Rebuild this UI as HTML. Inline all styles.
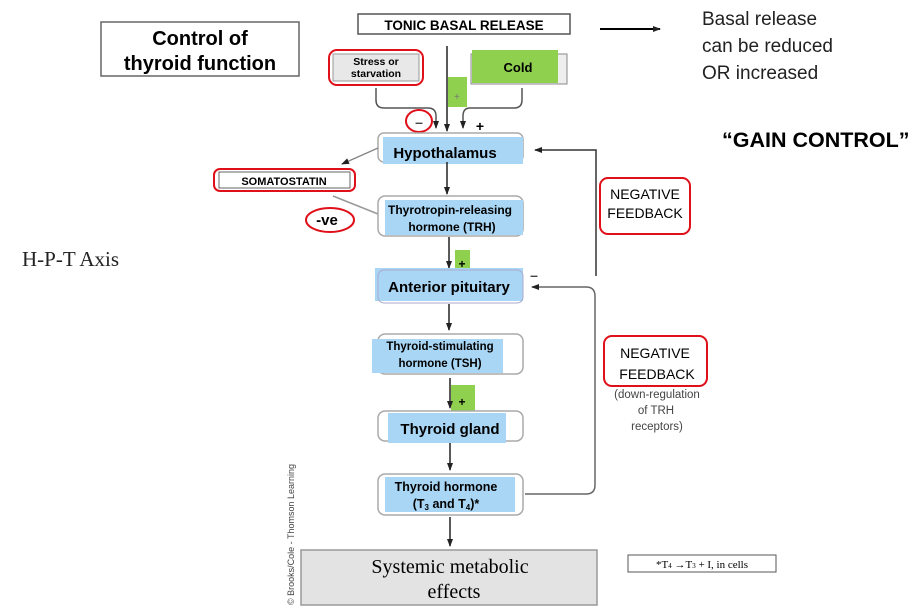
<!DOCTYPE html>
<html><head><meta charset="utf-8"><style>
html,body{margin:0;padding:0;background:#fff;width:924px;height:614px;overflow:hidden}
svg{display:block}
.s{font-family:"Liberation Sans",sans-serif}
.b{font-weight:bold}
.sr{font-family:"Liberation Serif",serif}
</style></head><body>
<svg width="924" height="614" viewBox="0 0 924 614" xmlns="http://www.w3.org/2000/svg">
<defs>
<marker id="a" markerWidth="8" markerHeight="8" refX="7" refY="4" orient="auto" markerUnits="userSpaceOnUse"><path d="M0,1 L8,4 L0,7z" fill="#222"/></marker>
</defs>
<rect x="101" y="22" width="198" height="54" fill="#fff" stroke="#666" stroke-width="1.5"/>
<text x="200" y="45" class="s b" font-size="20" text-anchor="middle">Control of</text>
<text x="200" y="70" class="s b" font-size="20" text-anchor="middle">thyroid function</text>
<text x="22" y="266" class="sr" font-size="21" fill="#222">H-P-T Axis</text>
<rect x="358" y="14" width="212" height="20" fill="#fff" stroke="#555" stroke-width="1.5"/>
<text x="464" y="30" class="s b" font-size="13.5" text-anchor="middle">TONIC BASAL RELEASE</text>
<line x1="600" y1="29" x2="660" y2="29" stroke="#000" stroke-width="2" marker-end="url(#a)"/>
<text x="702" y="25" class="s" font-size="19" fill="#222">Basal release</text>
<text x="702" y="52" class="s" font-size="19" fill="#222">can be reduced</text>
<text x="702" y="79" class="s" font-size="19" fill="#222">OR increased</text>
<text x="722" y="147" class="s b" font-size="21.5">“GAIN CONTROL”</text>
<rect x="333" y="54" width="86" height="27" fill="#e8e8e8" stroke="#999"/>
<text x="376" y="65" class="s b" font-size="10.5" text-anchor="middle">Stress or</text>
<text x="376" y="77" class="s b" font-size="10.5" text-anchor="middle">starvation</text>
<rect x="329" y="50" width="94" height="35" rx="8" fill="none" stroke="#e0101a" stroke-width="2"/>
<rect x="471" y="54" width="96" height="30" fill="#eee" stroke="#888"/>
<rect x="472" y="50" width="86" height="33" fill="#8fd14f"/>
<text x="518" y="72" class="s b" font-size="13" text-anchor="middle">Cold</text>
<rect x="448" y="77" width="19" height="30" fill="#8fd14f"/>
<text x="454" y="100" class="s" font-size="10" fill="#777">+</text>
<path d="M376,88 V100 Q376,108 384,108 H428 Q436,108 436,116 V128" fill="none" stroke="#555" stroke-width="1.5" marker-end="url(#a)"/>
<line x1="447" y1="46" x2="447" y2="131" stroke="#222" stroke-width="1.5" marker-end="url(#a)"/>
<path d="M522,88 V100 Q522,108 514,108 H470 Q463,108 463,116 V128" fill="none" stroke="#555" stroke-width="1.5" marker-end="url(#a)"/>
<text x="419" y="127" class="s b" font-size="14" fill="#444" text-anchor="middle">–</text>
<ellipse cx="419" cy="121" rx="13" ry="11" fill="none" stroke="#e0101a" stroke-width="2"/>
<text x="480" y="131" class="s b" font-size="14" text-anchor="middle">+</text>
<rect x="378" y="133" width="145" height="29" rx="6" fill="#fff" stroke="#aaa" stroke-width="1.5"/>
<rect x="383" y="137" width="140" height="27" fill="#a9d6f5"/>
<text x="445" y="158" class="s b" font-size="15" text-anchor="middle">Hypothalamus</text>
<line x1="378" y1="148" x2="342" y2="164" stroke="#888" stroke-width="1.5" marker-end="url(#a)"/>
<rect x="219" y="172" width="131" height="16" fill="#fff" stroke="#666"/>
<text x="284" y="185" class="s b" font-size="11" text-anchor="middle">SOMATOSTATIN</text>
<rect x="214" y="169" width="141" height="22" rx="6" fill="none" stroke="#e0101a" stroke-width="2"/>
<line x1="333" y1="196" x2="378" y2="214" stroke="#999" stroke-width="1.5"/>
<text x="327" y="225" class="s b" font-size="15" text-anchor="middle">-ve</text>
<ellipse cx="330" cy="220" rx="24" ry="12" fill="none" stroke="#e0101a" stroke-width="2"/>
<line x1="447" y1="162" x2="447" y2="194" stroke="#222" stroke-width="1.5" marker-end="url(#a)"/>
<rect x="378" y="196" width="145" height="40" rx="7" fill="#fff" stroke="#aaa" stroke-width="1.5"/>
<rect x="385" y="200" width="138" height="35" fill="#a9d6f5"/>
<text x="450" y="214" class="s b" font-size="12" text-anchor="middle">Thyrotropin-releasing</text>
<text x="452" y="231" class="s b" font-size="12" text-anchor="middle">hormone (TRH)</text>
<rect x="455" y="250" width="15" height="30" fill="#8fd14f"/>
<text x="462" y="268" class="s b" font-size="12" text-anchor="middle">+</text>
<line x1="449" y1="237" x2="449" y2="268" stroke="#222" stroke-width="1.5" marker-end="url(#a)"/>
<rect x="375" y="268" width="148" height="33" fill="#a9d6f5"/>
<rect x="378" y="270" width="145" height="33" rx="6" fill="none" stroke="#aac" stroke-width="1"/>
<text x="449" y="292" class="s b" font-size="15" text-anchor="middle">Anterior pituitary</text>
<text x="534" y="280" class="s b" font-size="14" fill="#444" text-anchor="middle">–</text>
<path d="M596,276 V150 H535" fill="none" stroke="#333" stroke-width="1.5" marker-end="url(#a)"/>
<text x="645" y="199" class="s" font-size="14" text-anchor="middle">NEGATIVE</text>
<text x="645" y="218" class="s" font-size="14" text-anchor="middle">FEEDBACK</text>
<rect x="600" y="178" width="90" height="56" rx="8" fill="none" stroke="#e0101a" stroke-width="2"/>
<line x1="449" y1="304" x2="449" y2="330" stroke="#222" stroke-width="1.5" marker-end="url(#a)"/>
<rect x="378" y="334" width="145" height="40" rx="7" fill="#fff" stroke="#aaa" stroke-width="1.5"/>
<rect x="372" y="339" width="131" height="34" fill="#a9d6f5"/>
<text x="440" y="350" class="s b" font-size="11.5" text-anchor="middle">Thyroid-stimulating</text>
<text x="440" y="367" class="s b" font-size="11.5" text-anchor="middle">hormone (TSH)</text>
<rect x="451" y="385" width="24" height="32" fill="#8fd14f"/>
<text x="462" y="406" class="s b" font-size="12" text-anchor="middle">+</text>
<line x1="450" y1="378" x2="450" y2="408" stroke="#222" stroke-width="1.5" marker-end="url(#a)"/>
<rect x="378" y="411" width="145" height="30" rx="7" fill="#fff" stroke="#aaa" stroke-width="1.5"/>
<rect x="388" y="413" width="118" height="30" fill="#a9d6f5"/>
<text x="450" y="434" class="s b" font-size="15" text-anchor="middle">Thyroid gland</text>
<line x1="450" y1="443" x2="450" y2="470" stroke="#222" stroke-width="1.5" marker-end="url(#a)"/>
<rect x="378" y="474" width="145" height="41" rx="7" fill="#fff" stroke="#aaa" stroke-width="1.5"/>
<rect x="385" y="477" width="130" height="35" fill="#a9d6f5"/>
<text x="446" y="491" class="s b" font-size="12.5" text-anchor="middle">Thyroid hormone</text>
<text x="446" y="508" class="s b" font-size="12.5" text-anchor="middle">(T<tspan font-size="8" dy="2">3</tspan><tspan dy="-2"> and T</tspan><tspan font-size="8" dy="2">4</tspan><tspan dy="-2">)*</tspan></text>
<path d="M525,494 H586 Q595,494 595,485 V296 Q595,287 586,287 H532" fill="none" stroke="#666" stroke-width="1.5" marker-end="url(#a)"/>
<text x="655" y="358" class="s" font-size="14" text-anchor="middle">NEGATIVE</text>
<text x="657" y="379" class="s" font-size="14" text-anchor="middle">FEEDBACK</text>
<rect x="604" y="336" width="103" height="50" rx="8" fill="none" stroke="#e0101a" stroke-width="2"/>
<text x="657" y="398" class="s" font-size="11.5" fill="#444" text-anchor="middle">(down-regulation</text>
<text x="656" y="414" class="s" font-size="11.5" fill="#444" text-anchor="middle">of TRH</text>
<text x="657" y="430" class="s" font-size="11.5" fill="#444" text-anchor="middle">receptors)</text>
<line x1="450" y1="517" x2="450" y2="546" stroke="#222" stroke-width="1.5" marker-end="url(#a)"/>
<rect x="301" y="550" width="296" height="55" fill="#e3e3e3" stroke="#999" stroke-width="1.5"/>
<text x="450" y="573" class="sr" font-size="20" text-anchor="middle">Systemic metabolic</text>
<text x="454" y="598" class="sr" font-size="20" text-anchor="middle">effects</text>
<rect x="628" y="555" width="148" height="17" fill="#fff" stroke="#555"/>
<text x="702" y="568" class="sr" font-size="11" text-anchor="middle">*T<tspan font-size="7">4</tspan> →T<tspan font-size="7">3</tspan>  + I, in cells</text>
<text transform="translate(294,605) rotate(-90)" class="s" font-size="9" fill="#444">© Brooks/Cole - Thomson Learning</text>
</svg>
</body></html>
